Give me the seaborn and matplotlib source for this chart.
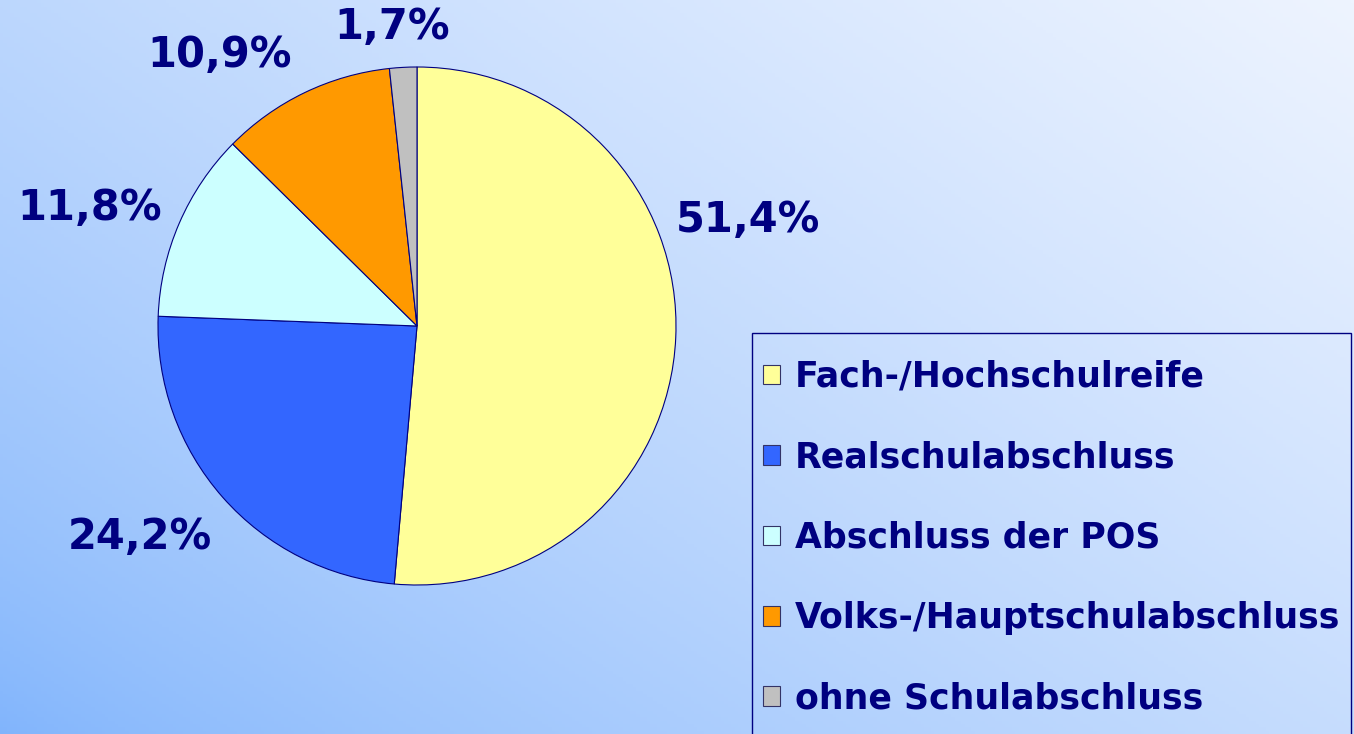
import matplotlib
matplotlib.use("Agg")
import matplotlib.pyplot as plt
import matplotlib.patches as mpatches
import seaborn as sns
import numpy as np

# data
categories = ["Fach-/Hochschulreife", "Realschulabschluss", "Abschluss der POS",
              "Volks-/Hauptschulabschluss", "ohne Schulabschluss"]
shares = [51.4, 24.2, 11.8, 10.9, 1.7]
pct_labels = ["51,4%", "24,2%", "11,8%", "10,9%", "1,7%"]
colors = ["#ffff99", "#3366ff", "#ccffff", "#ff9900", "#c0c0c0"]

# where the percentage labels sit (in pie radius units)
label_pos = [(1.278, 0.409), (-1.069, -0.815), (-1.263, 0.456),
             (-0.761, 1.046), (-0.097, 1.154)]

navy = "#000080"

sns.set_style("white")
plt.rcParams['font.family'] = ['DejaVu Sans']

W, H = 1354, 734
fig = plt.figure(figsize=(W / 100, H / 100), dpi=100)

# diagonal gradient background
bg = fig.add_axes([0, 0, 1, 1], zorder=-10)
xx, yy = np.meshgrid(np.linspace(0, 1, 400), np.linspace(0, 1, 220))
t = np.clip((xx * 0.55 + (1 - yy) * 0.45), 0, 1) ** 0.75
c0 = np.array([128, 180, 252]) / 255
c1 = np.array([238, 244, 255]) / 255
img = c0[None, None, :] * (1 - t[..., None]) + c1[None, None, :] * t[..., None]
bg.imshow(img, extent=[0, 1, 0, 1], origin="upper", aspect="auto")
bg.axis("off")

# pie axes: centre (417, 326) px, radius 259 px
cx, cy, R = 417, 326, 259
ax = fig.add_axes([(cx - R) / W, (H - cy - R) / H, 2 * R / W, 2 * R / H])
wedges, _ = ax.pie(shares, colors=colors, startangle=90, counterclock=False,
                   wedgeprops=dict(edgecolor=navy, linewidth=0.8))
ax.set_xlim(-1, 1)
ax.set_ylim(-1, 1)
ax.set_aspect("equal")
ax.axis("off")

for lab, (x, y) in zip(pct_labels, label_pos):
    ax.text(x, y, lab, ha="center", va="center", fontsize=30,
            fontweight="bold", color=navy, clip_on=False)

# legend box frame (runs off the bottom of the picture)
frame = mpatches.Rectangle((752 / W, -0.05), (1351 - 752) / W, 0.05 + (H - 333) / H,
                           transform=fig.transFigure, facecolor="none",
                           edgecolor=navy, linewidth=1.0)
fig.patches.append(frame)

handles = [mpatches.Patch(facecolor=c, edgecolor="#333366", linewidth=0.8) for c in colors]
leg = fig.legend(handles, categories, loc="upper left",
                 bbox_to_anchor=(763 / W, 1 - 360 / H),
                 frameon=False, prop=dict(weight="bold", size=25),
                 labelspacing=1.335, handlelength=0.49, handleheight=0.49,
                 handletextpad=0.43, borderpad=0, borderaxespad=0)
for txt in leg.get_texts():
    txt.set_color(navy)

fig.savefig("out.png", dpi=100)
